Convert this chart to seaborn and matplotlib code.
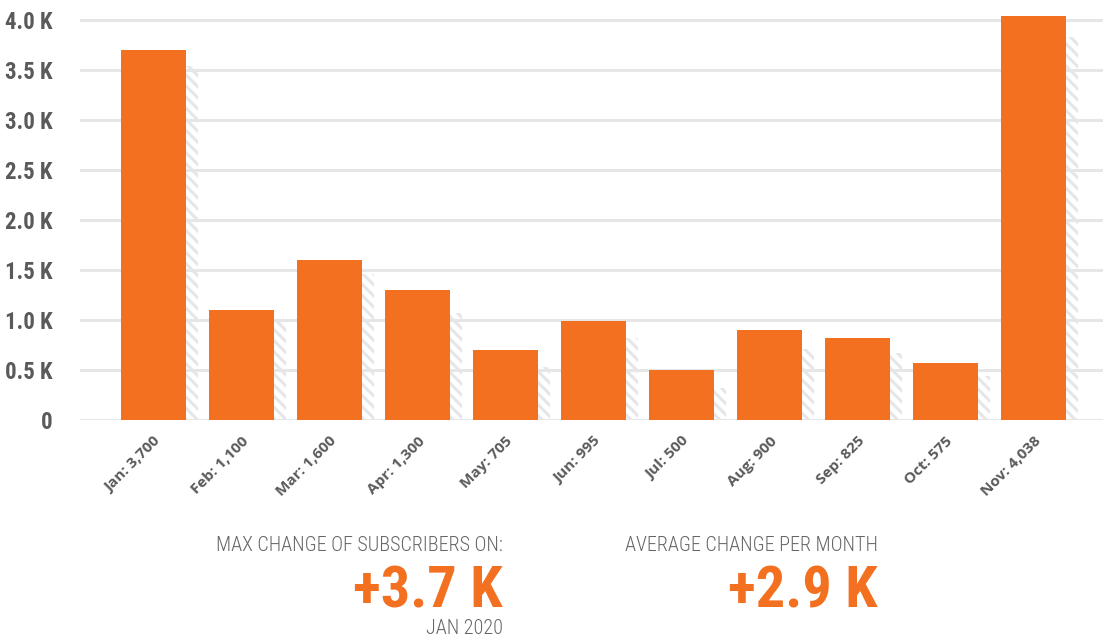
import matplotlib
matplotlib.use("Agg")
import matplotlib.pyplot as plt
from matplotlib import font_manager as fm
from matplotlib.ticker import FuncFormatter, MultipleLocator
from matplotlib.transforms import offset_copy
import seaborn as sns
import pandas as pd

# Monthly change of subscribers
months = ["Jan", "Feb", "Mar", "Apr", "May", "Jun", "Jul", "Aug", "Sep", "Oct", "Nov"]
change = [3700, 1100, 1600, 1300, 705, 995, 500, 900, 825, 575, 4038]
# Previous-period comparison drawn as the hatched bars behind
previous = [3540, 1000, 1460, 1070, 530, 820, 320, 710, 670, 440, 3830]

max_label = "+3.7 K"
max_period = "JAN 2020"
avg_label = "+2.9 K"

ORANGE = "#F37021"
GRID = "#E6E6E6"
TEXT = "#5A5A5A"


def narrow_font(bold):
    """Pick an installed condensed/narrow face; fall back to a plain family."""
    scored = []
    for e in fm.fontManager.ttflist:
        name = (e.name + " " + e.fname).lower()
        narrow = ("narrow" in name or "condensed" in name or "compressed" in name
                  or e.stretch not in ("normal", 500))
        if not narrow or "mono" in name or "serif" in name.replace("sans", ""):
            continue
        if "italic" in name or "oblique" in name or e.style != "normal":
            continue
        w = e.weight if isinstance(e.weight, int) else {"bold": 700, "normal": 400,
                                                        "light": 300}.get(e.weight, 400)
        if bold and w not in (600, 700):
            continue
        if not bold and w not in (300, 400):
            continue
        score = 0
        if "liberation" in name:
            score = 3
        elif "roboto" in name:
            score = 2
        elif "dejavu" in name:
            score = 1
        if not bold and w == 300:
            score += 0.5
        if bold and w == 700:
            score += 0.5
        scored.append((score, e.fname))
    if scored:
        scored.sort(reverse=True)
        return fm.FontProperties(fname=scored[0][1])
    return fm.FontProperties(family="DejaVu Sans", weight="bold" if bold else "normal",
                             stretch="condensed")


labels = [f"{m}: {v:,}" for m, v in zip(months, change)]
df = pd.DataFrame({"label": labels, "change": [v / 1000 for v in change],
                   "previous": [v / 1000 for v in previous]})

sns.set_theme(style="white")
plt.rcParams["hatch.linewidth"] = 2.2

narrow_bold = narrow_font(True)
narrow_reg = narrow_font(False)

W, H = 1103, 642
fig = plt.figure(figsize=(W / 100, H / 100), dpi=100)
ax = fig.add_axes([80 / W, (H - 420) / H, 1023 / W, 405 / H])

# hatched comparison bars, shifted a few pixels to the right
sns.barplot(data=df, x="label", y="previous", color="white", width=0.74,
            saturation=1, ax=ax, zorder=1)
shift = offset_copy(ax.transData, fig=fig, x=12, y=0, units="dots")
for p in ax.patches:
    p.set_transform(shift)
    p.set_facecolor("none")
    p.set_edgecolor(GRID)
    p.set_hatch("\\\\\\")
    p.set_linewidth(0)
n_prev = len(ax.patches)

sns.barplot(data=df, x="label", y="change", color=ORANGE, width=0.74,
            saturation=1, ax=ax, zorder=3)
for p in ax.patches[n_prev:]:
    p.set_edgecolor("none")
    p.set_linewidth(0)

ax.set_xlim(-0.835, 10.79)
ax.set_ylim(0, 4.05)
ax.yaxis.set_major_locator(MultipleLocator(0.5))
ax.yaxis.set_major_formatter(FuncFormatter(lambda v, _: "0" if abs(v) < 1e-9 else f"{v:.1f} K"))
ax.grid(axis="y", color=GRID, linewidth=2.2, zorder=0)
ax.set_axisbelow(True)
for s in ax.spines.values():
    s.set_visible(False)
ax.set_xlabel("")
ax.set_ylabel("")
ax.tick_params(axis="y", length=0, pad=20)
ax.tick_params(axis="x", length=0, pad=10)

for t in ax.get_yticklabels():
    t.set_fontproperties(narrow_bold)
    t.set_fontsize(16.5)
    t.set_color(TEXT)

ax.set_xticks(range(len(labels)))
ax.set_xticklabels(labels, rotation=45, ha="right", va="top", rotation_mode="anchor",
                   fontfamily="Open Sans", fontweight="bold", fontsize=11, color=TEXT)

# Summary figures under the chart
def ftxt(x, y, s, fp, size, color):
    fig.text(x / W, 1 - y / H, s, ha="right", va="baseline",
             fontproperties=fp, fontsize=size, color=color)

ftxt(503, 551, "MAX CHANGE OF SUBSCRIBERS ON:", narrow_reg, 14.5, "#666666")
ftxt(503, 607, max_label, narrow_bold, 42, ORANGE)
ftxt(503, 634, max_period, narrow_reg, 14.5, "#666666")
ftxt(878, 551, "AVERAGE CHANGE PER MONTH", narrow_reg, 14.5, "#666666")
ftxt(878, 607, avg_label, narrow_bold, 42, ORANGE)

fig.savefig("out.png", dpi=100, facecolor="white")
